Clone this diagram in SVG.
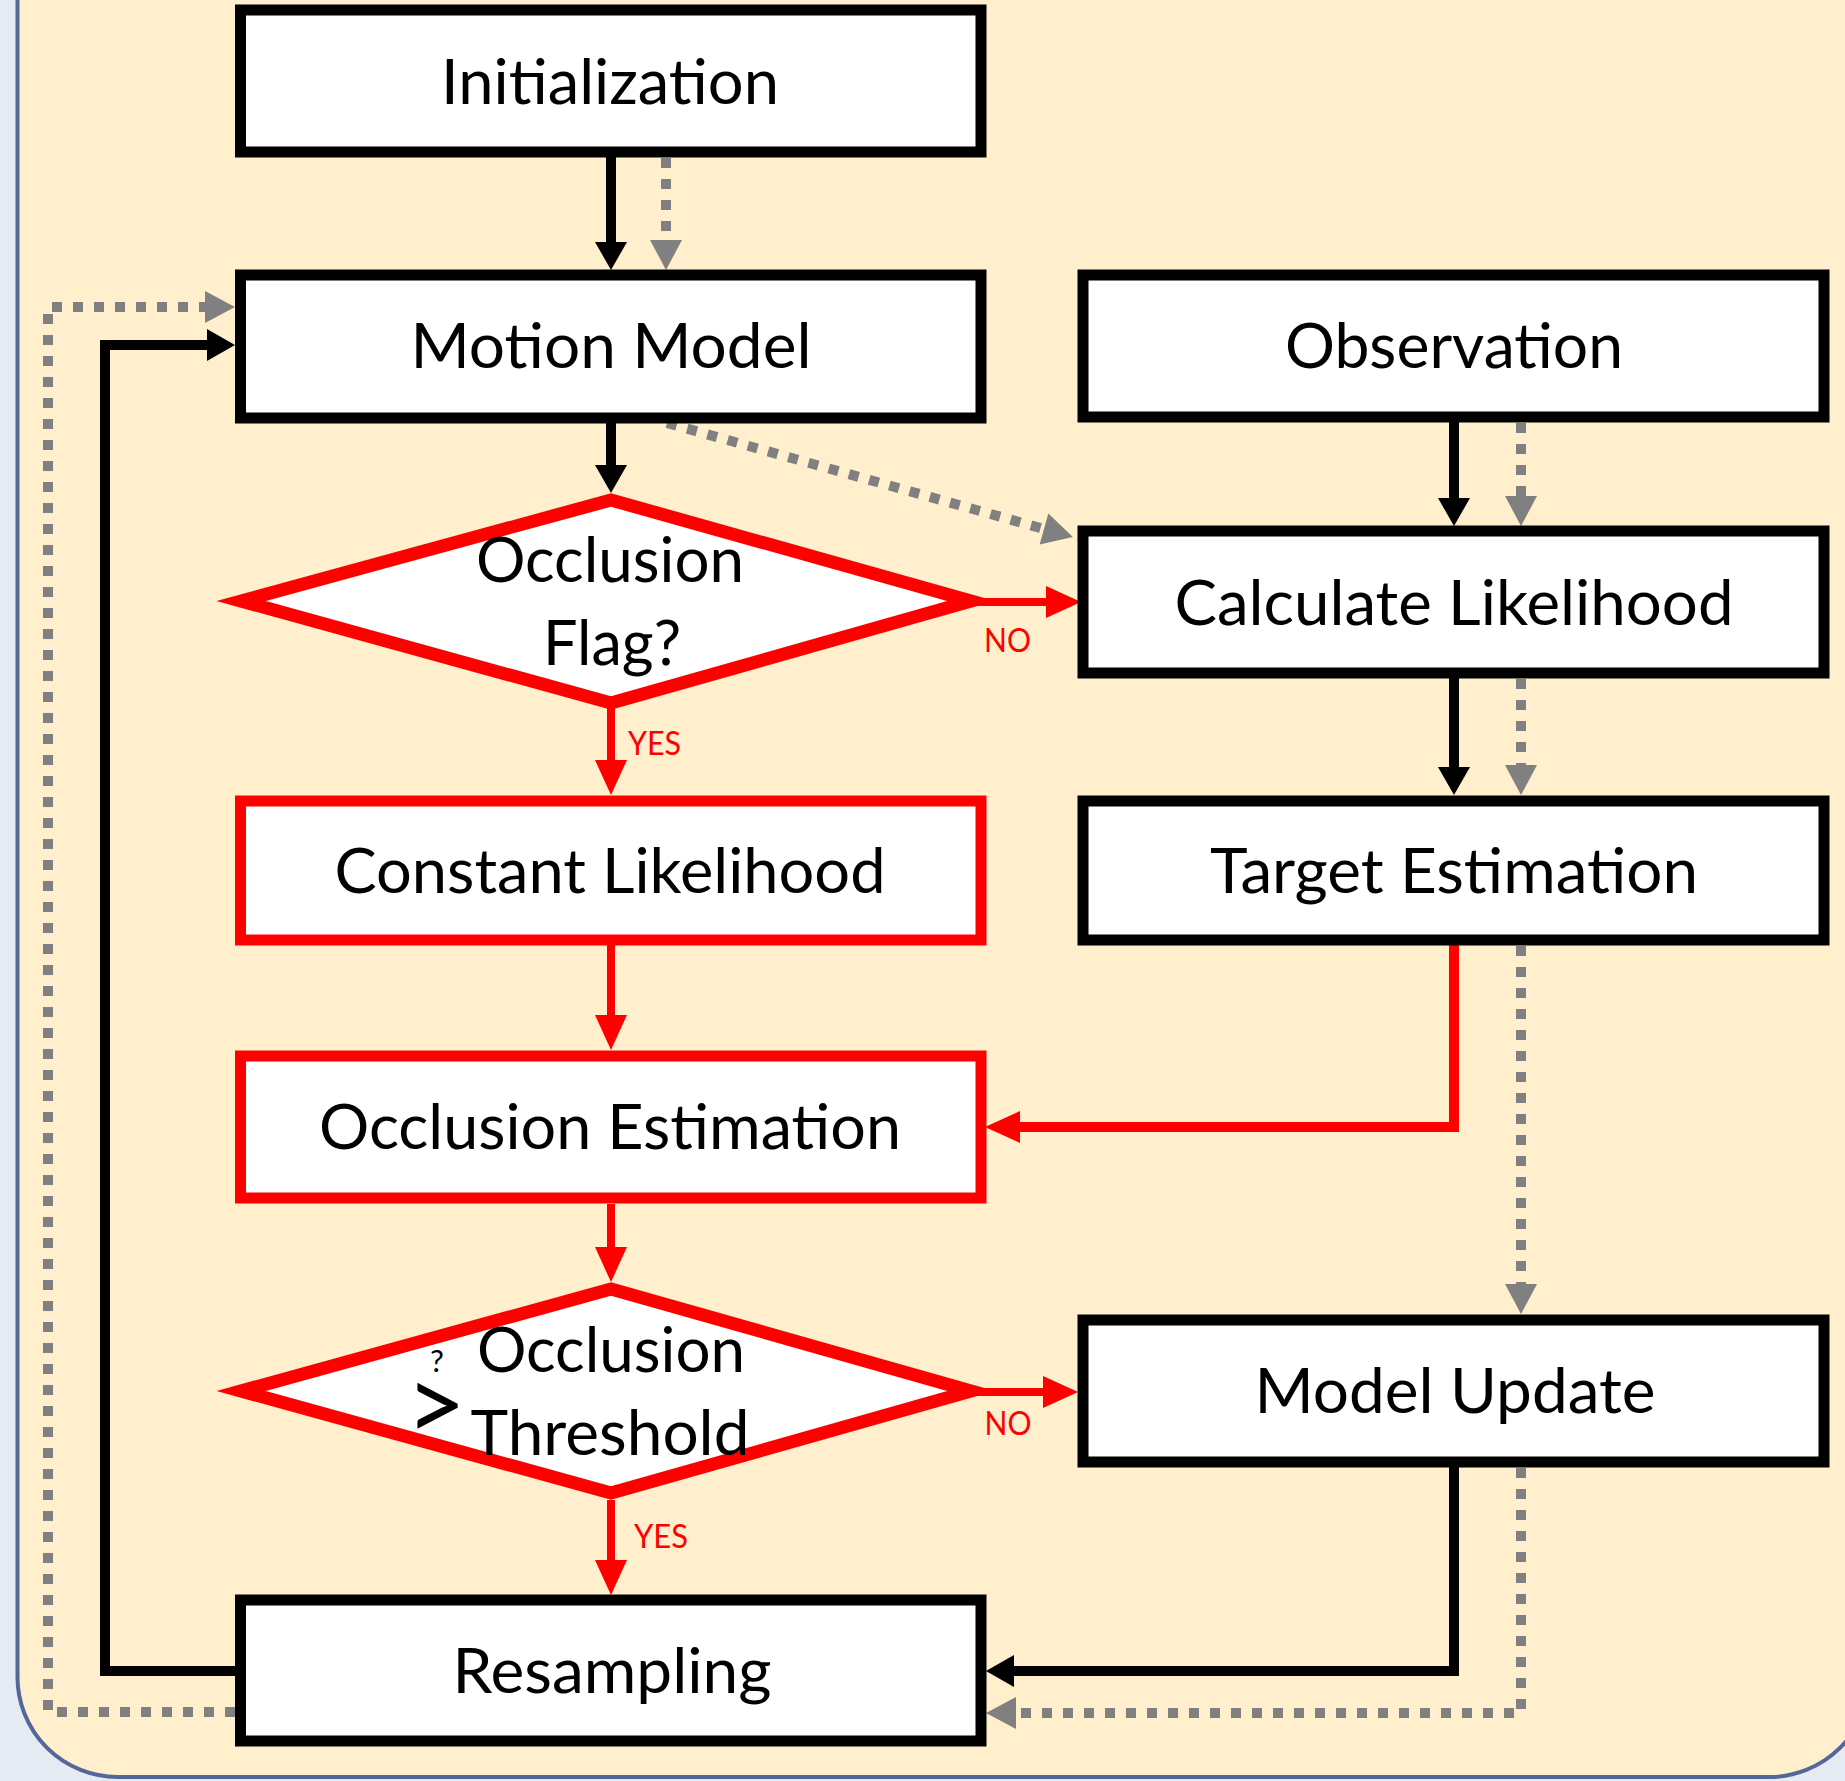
<svg xmlns="http://www.w3.org/2000/svg" width="1845" height="1781" viewBox="0 0 1845 1781">
  <style>
    .box { fill: #FFFFFF; stroke: #000000; stroke-width: 11; }
    .rbox { fill: #FFFFFF; stroke: #FF0000; stroke-width: 11; }
    .dia { fill: #FFFFFF; stroke: #FF0000; stroke-width: 13; stroke-linejoin: miter; stroke-miterlimit: 6; }
    .lbl { font-family: Lato, "Liberation Sans", sans-serif; font-size: 62px; fill: #000000; text-anchor: middle; }
    .yn { font-family: Lato, "Liberation Sans", sans-serif; font-size: 33px; fill: #FF0000; text-anchor: middle; }
    .blk { fill: none; stroke: #000000; stroke-width: 10; marker-end: url(#ab); }
    .red { fill: none; stroke: #FF0000; stroke-width: 8; marker-end: url(#ar); }
    .redw { fill: none; stroke: #FF0000; stroke-width: 10; marker-end: url(#ar); }
    .gry { fill: none; stroke: #808080; stroke-width: 10; stroke-dasharray: 10 11; marker-end: url(#ag); }
  </style>
  <defs>
    <marker id="ab" markerUnits="userSpaceOnUse" markerWidth="30" markerHeight="34" refX="0" refY="16" orient="auto" overflow="visible">
      <path d="M0,0 L28,16 L0,32 Z" fill="#000000"/>
    </marker>
    <marker id="ar" markerUnits="userSpaceOnUse" markerWidth="36" markerHeight="34" refX="0" refY="16" orient="auto" overflow="visible">
      <path d="M0,0 L35,16 L0,32 Z" fill="#FF0000"/>
    </marker>
    <marker id="ag" markerUnits="userSpaceOnUse" markerWidth="32" markerHeight="34" refX="0" refY="16" orient="auto" overflow="visible">
      <path d="M0,0 L30,16 L0,32 Z" fill="#808080"/>
    </marker>
  </defs>

  <rect x="0" y="0" width="1845" height="1781" fill="#E6EAF3"/>
  <rect x="17.5" y="-200" width="1852" height="1977" rx="100" ry="100" fill="#FFEFCC" stroke="#53679A" stroke-width="4"/>

  <g id="connectors">
    <path class="blk" d="M611,152 V242"/>
    <path class="gry" d="M666,158 V240"/>
    <path class="blk" d="M611,423 V465"/>
    <path class="gry" d="M667,423 L1044,529"/>
    <path class="red" d="M975,602 H1046"/>
    <path class="red" d="M611,706 V760"/>
    <path class="blk" d="M1454,422 V498"/>
    <path class="gry" d="M1521,423 V496"/>
    <path class="blk" d="M1454,678 V767"/>
    <path class="gry" d="M1521,679 V765"/>
    <path class="red" d="M611,945 V1015"/>
    <path class="redw" d="M1454,945 V1127 H1020"/>
    <path class="gry" d="M1521,946 V1284"/>
    <path class="red" d="M611,1204 V1247"/>
    <path class="red" d="M975,1392 H1043"/>
    <path class="red" d="M611,1500 V1560"/>
    <path class="blk" d="M1454,1467 V1671 H1014"/>
    <path class="gry" d="M1521,1468 V1713 H1016"/>
    <path class="blk" d="M235,1671 H105 V345 H207"/>
    <path class="gry" d="M235,1712 H48 V307 H205"/>
  </g>

  <g id="initialization">
    <rect class="box" x="240.5" y="10" width="740.5" height="142"/>
    <text class="lbl" x="610" y="104" textLength="338" lengthAdjust="spacingAndGlyphs">Initialization</text>
  </g>
  <g id="motion-model">
    <rect class="box" x="240.5" y="275" width="740.5" height="143"/>
    <text class="lbl" x="611" y="368" textLength="401" lengthAdjust="spacingAndGlyphs">Motion Model</text>
  </g>
  <g id="observation">
    <rect class="box" x="1083" y="275" width="741" height="142"/>
    <text class="lbl" x="1454" y="368" textLength="338" lengthAdjust="spacingAndGlyphs">Observation</text>
  </g>
  <g id="occlusion-flag">
    <polygon class="dia" points="611,500 971,601 611,703 241,601"/>
    <text class="lbl" x="610" y="582" textLength="268" lengthAdjust="spacingAndGlyphs">Occlusion</text>
    <text class="lbl" x="612" y="665" textLength="138" lengthAdjust="spacingAndGlyphs">Flag?</text>
  </g>
  <g id="calculate-likelihood">
    <rect class="box" x="1083" y="531" width="741" height="142"/>
    <text class="lbl" x="1454" y="625" textLength="559" lengthAdjust="spacingAndGlyphs">Calculate Likelihood</text>
  </g>
  <g id="constant-likelihood">
    <rect class="rbox" x="240.5" y="801" width="740.5" height="139"/>
    <text class="lbl" x="610" y="893" textLength="551" lengthAdjust="spacingAndGlyphs">Constant Likelihood</text>
  </g>
  <g id="target-estimation">
    <rect class="box" x="1083" y="801" width="741" height="139"/>
    <text class="lbl" x="1454" y="893" textLength="488" lengthAdjust="spacingAndGlyphs">Target Estimation</text>
  </g>
  <g id="occlusion-estimation">
    <rect class="rbox" x="240.5" y="1056" width="740.5" height="142"/>
    <text class="lbl" x="610" y="1149" textLength="582" lengthAdjust="spacingAndGlyphs">Occlusion Estimation</text>
  </g>
  <g id="occlusion-threshold">
    <polygon class="dia" points="611,1289 971,1391 611,1493 241,1391"/>
    <text class="lbl" x="611" y="1372" textLength="268" lengthAdjust="spacingAndGlyphs">Occlusion</text>
    <text class="lbl" x="610" y="1455" textLength="279" lengthAdjust="spacingAndGlyphs">Threshold</text>
    <text class="lbl" x="436" y="1441" style="font-size:104px">&gt;</text>
    <text class="lbl" x="437" y="1372" style="font-size:31px">?</text>
  </g>
  <g id="model-update">
    <rect class="box" x="1083" y="1320" width="741" height="142"/>
    <text class="lbl" x="1455" y="1413" textLength="401" lengthAdjust="spacingAndGlyphs">Model Update</text>
  </g>
  <g id="resampling">
    <rect class="box" x="240.5" y="1600" width="740.5" height="141"/>
    <text class="lbl" x="612" y="1693" textLength="319" lengthAdjust="spacingAndGlyphs">Resampling</text>
  </g>

  <g id="edge-labels">
    <text class="yn" x="1007.5" y="652" textLength="47" lengthAdjust="spacingAndGlyphs">NO</text>
    <text class="yn" x="654.5" y="755" textLength="53" lengthAdjust="spacingAndGlyphs">YES</text>
    <text class="yn" x="1008" y="1435" textLength="47" lengthAdjust="spacingAndGlyphs">NO</text>
    <text class="yn" x="661" y="1548" textLength="54" lengthAdjust="spacingAndGlyphs">YES</text>
  </g>
</svg>
